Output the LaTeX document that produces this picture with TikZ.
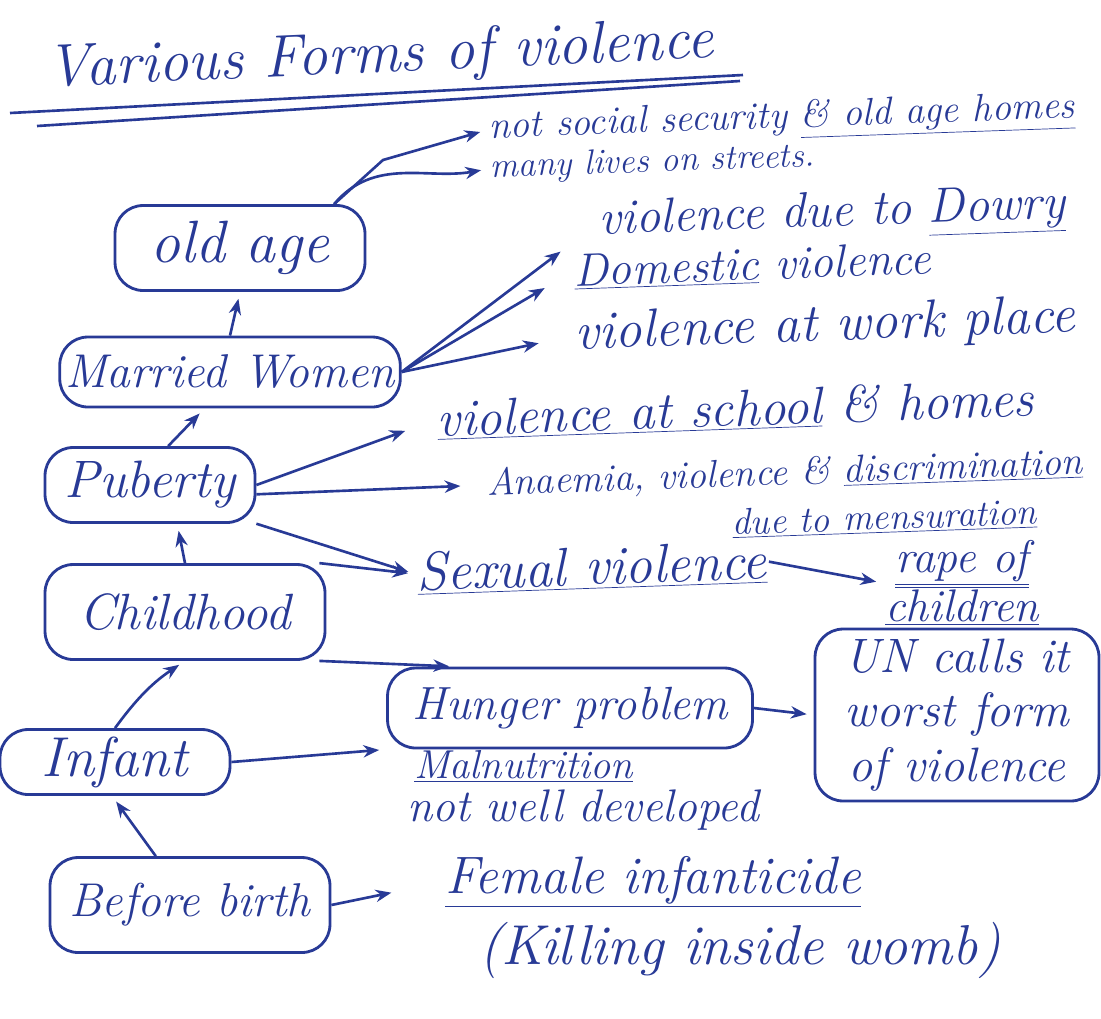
\documentclass[tikz,border=0pt]{standalone}
\usepackage{fontspec}
\usepackage{tikz}
\usetikzlibrary{arrows.meta, positioning}
\definecolor{Ink}{RGB}{40, 58, 150}
\newcommand{\handfont}[2]{\fontsize{#1}{#2}\selectfont\itshape}

\begin{document}
\begin{tikzpicture}[
    x=0.02cm, y=-0.02cm,
    stage/.style={rectangle, rounded corners=16pt, draw=Ink, line width=1.6pt, text=Ink, inner sep=3pt, align=center},
    note/.style={text=Ink, inner sep=1pt, anchor=west, align=left},
    arr/.style={-{Stealth[length=9pt, width=7pt]}, draw=Ink, line width=1.5pt, shorten >=4pt},
    uline/.style={draw=Ink, line width=1.5pt}
]
    \useasboundingbox (0,0) rectangle (1101,1018);

    % Title
    \node[note, font=\handfont{34}{38}, rotate=2.5] (title) at (45,72) {Various Forms of violence};
    \draw[uline] (10,113) -- (743,75);
    \draw[uline] (37,126) -- (740,81);

    % Life stages
    \node[stage, minimum width=5cm, minimum height=1.7cm, font=\handfont{34}{38}] (oldage) at (240,248) {old age};
    \node[stage, minimum width=6.8cm, minimum height=1.4cm, font=\handfont{27}{30}] (married) at (230,372) {Married Women};
    \node[stage, minimum width=4.2cm, minimum height=1.5cm, font=\handfont{30}{34}] (puberty) at (150,485) {Puberty};
    \node[stage, minimum width=5.6cm, minimum height=1.9cm, font=\handfont{29}{32}] (childhood) at (185,612) {Childhood};
    \node[stage, minimum width=4.6cm, minimum height=1.3cm, font=\handfont{32}{36}] (infant) at (115,762) {Infant};
    \node[stage, minimum width=5.6cm, minimum height=1.9cm, font=\handfont{27}{30}] (birth) at (190,905) {Before birth};

    % Forms of violence
    \node[note, font=\handfont{22}{26}, rotate=2] (secur) at (487,130) {not social security \underline{\& old age homes}};
    \node[note, font=\handfont{20}{24}, rotate=2] (streets) at (488,169) {many lives on streets.};
    \node[note, font=\handfont{28}{32}, rotate=2] (dowry) at (597,224) {violence due to \underline{Dowry}};
    \node[note, font=\handfont{26.5}{30}, rotate=2] (domestic) at (572,272) {\underline{Domestic} violence};
    \node[note, font=\handfont{30.5}{34}, rotate=2] (work) at (573,336) {violence at work place};
    \node[note, font=\handfont{29.5}{32}, rotate=2] (school) at (435,420) {\underline{violence at school} \& homes};
    \node[note, font=\handfont{22}{26}, rotate=2] (anaemia) at (485,485) {Anaemia, violence \& \underline{discrimination}};
    \node[note, font=\handfont{21}{24}, rotate=2] (mens) at (730,524) {\underline{due to mensuration}};
    \node[note, font=\handfont{31}{34}, rotate=2] (sexual) at (415,574) {\underline{Sexual violence}};
    \node[note, anchor=center, align=center, font=\handfont{26}{28}] (rape) at (962,583) {\underline{\underline{rape of}}\\\underline{children}};
    \node[stage, minimum width=7.3cm, minimum height=1.6cm, rounded corners=16pt, font=\handfont{26.5}{30}] (hunger) at (570,708) {Hunger problem};
    \node[note, font=\handfont{23}{26}] (malnut) at (412,766) {\underline{Malnutrition}};
    \node[note, font=\handfont{26}{30}] (notwell) at (405,810) {not well developed};
    \node[stage, minimum width=5.68cm, minimum height=3.44cm, font=\handfont{27.5}{31}] (un) at (957,715) {UN calls it\\worst form\\of violence};
    \node[note, font=\handfont{30}{32}] (female) at (443,882) {\underline{Female infanticide}};
    \node[note, font=\handfont{32}{34}] (killing) at (477,950) {(Killing inside womb)};

    % Growing up
    \draw[arr] (married.north) -- (oldage.south);
    \draw[arr] (puberty.65) -- (married.-125);
    \draw[arr] (childhood.north) -- (puberty.-55);
    \draw[arr] (infant.north) to[bend left=10] (childhood.south);
    \draw[arr] (birth.125) -- (infant.-95);

    % Old age and married women
    \draw[arr] (oldage.25) -- (383,160) -- (secur.west);
    \draw[arr] (oldage.25) to[out=50, in=190] (streets.west);
    \draw[arr, shorten >=26pt] (married.east) -- (dowry.west);
    \draw[arr, shorten >=18pt] (married.east) -- (domestic.west);
    \draw[arr, shorten >=20pt] (married.east) -- (work.west);

    % Puberty and childhood
    \draw[arr, shorten >=18pt] (puberty.east) -- (school.west);
    \draw[arr, shorten >=14pt] (puberty.-5) -- (anaemia.west);
    \draw[arr] (puberty.-20) -- (sexual.west);
    \draw[arr] (childhood.20) -- (sexual.west);
    \draw[arr] (childhood.-20) -- (hunger.160);
    \draw[arr] (sexual.east) -- (rape.west);

    % Infant and before birth
    \draw[arr] (infant.east) -- (hunger.south west);
    \draw[arr] (hunger.east) -- (un.west);
    \draw[arr, shorten >=30pt] (birth.east) -- (female.west);

\end{tikzpicture}
\end{document}
